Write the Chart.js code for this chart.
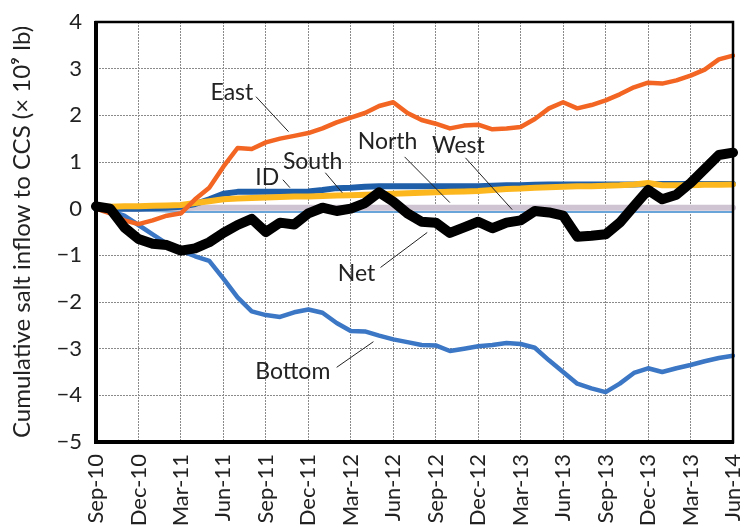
<!DOCTYPE html>
<html>
<head>
<meta charset="utf-8">
<script src="https://cdn.jsdelivr.net/npm/chart.js"></script>
<style>
  html, body { margin: 0; padding: 0; background: #fff; }
  #wrap { width: 740px; height: 531px; }
</style>
</head>
<body>
<div id="wrap"><canvas id="grafica" width="740" height="531"></canvas></div>
<script>
// meses (Sep-10 .. Jun-14)
const meses = [
  'Sep-10','Oct-10','Nov-10','Dec-10','Jan-11','Feb-11','Mar-11','Apr-11','May-11','Jun-11',
  'Jul-11','Aug-11','Sep-11','Oct-11','Nov-11','Dec-11','Jan-12','Feb-12','Mar-12','Apr-12',
  'May-12','Jun-12','Jul-12','Aug-12','Sep-12','Oct-12','Nov-12','Dec-12','Jan-13','Feb-13',
  'Mar-13','Apr-13','May-13','Jun-13','Jul-13','Aug-13','Sep-13','Oct-13','Nov-13','Dec-13',
  'Jan-14','Feb-14','Mar-14','Apr-14','May-14','Jun-14'
];

// etiquetas del eje x (cada 3 meses, tal cual la figura)
const etiquetasX = [
  'Sep-10','Dec-10','Mar-11','Jun-11','Sep-11','Dec-11','Mar-12','Jun-12',
  'Sep-12','Dec-12','Mar-13','Jun-13','Sep-13','Dec-13','Mar-13','Jun-14'
];

const east = [
  0, -0.1, -0.25, -0.33, -0.25, -0.15, -0.1, 0.2, 0.45, 0.9,
  1.3, 1.28, 1.42, 1.5, 1.56, 1.62, 1.72, 1.85, 1.95, 2.05,
  2.2, 2.28, 2.05, 1.9, 1.82, 1.72, 1.78, 1.8, 1.7, 1.72,
  1.75, 1.92, 2.15, 2.28, 2.15, 2.22, 2.32, 2.45, 2.6, 2.7,
  2.68, 2.75, 2.85, 2.98, 3.2, 3.28
];

const bottom = [
  0, -0.05, -0.15, -0.35, -0.55, -0.75, -0.9, -1.02, -1.12, -1.5,
  -1.9, -2.2, -2.28, -2.32, -2.22, -2.16, -2.23, -2.45, -2.62, -2.63,
  -2.72, -2.8, -2.86, -2.92, -2.93, -3.05, -3.0, -2.95, -2.92, -2.88,
  -2.9, -2.98, -3.25, -3.5, -3.75, -3.85, -3.93, -3.75, -3.52, -3.42,
  -3.5, -3.42, -3.35, -3.27, -3.2, -3.15
];

const net = [
  0.05, 0.0, -0.4, -0.65, -0.75, -0.78, -0.9, -0.85, -0.72, -0.52,
  -0.35, -0.22, -0.5, -0.3, -0.34, -0.1, 0.02, -0.05, 0.0, 0.12,
  0.35, 0.15, -0.1, -0.28, -0.3, -0.52, -0.4, -0.28, -0.42, -0.3,
  -0.25, -0.05, -0.08, -0.15, -0.6, -0.58, -0.55, -0.3, 0.05, 0.4,
  0.2, 0.3, 0.55, 0.85, 1.15, 1.2
];

const id = [
  0, 0, 0, 0, 0.01, 0.02, 0.04, 0.1, 0.2, 0.32,
  0.36, 0.36, 0.36, 0.36, 0.36, 0.37, 0.4, 0.44, 0.45, 0.47,
  0.48, 0.48, 0.48, 0.48, 0.48, 0.48, 0.48, 0.48, 0.49, 0.5,
  0.5, 0.51, 0.52, 0.52, 0.52, 0.52, 0.52, 0.52, 0.52, 0.53,
  0.53, 0.53, 0.53, 0.53, 0.53, 0.53
];

const south = [
  0.03, 0.04, 0.05, 0.05, 0.06, 0.07, 0.08, 0.12, 0.16, 0.2,
  0.22, 0.23, 0.24, 0.25, 0.26, 0.26, 0.27, 0.28, 0.29, 0.3,
  0.31, 0.32, 0.33, 0.34, 0.35, 0.36, 0.37, 0.38, 0.4, 0.42,
  0.43, 0.45, 0.46, 0.47, 0.48, 0.48, 0.49, 0.5, 0.52, 0.55,
  0.5, 0.5, 0.5, 0.51, 0.51, 0.52
];

const north = [
  0, 0, 0, 0, 0.01, 0.01, 0.01, 0.02, 0.02, 0.02,
  0.02, 0.02, 0.02, 0.02, 0.02, 0.02, 0.02, 0.02, 0.02, 0.02,
  0.02, 0.02, 0.02, 0.02, 0.02, 0.02, 0.02, 0.02, 0.02, 0.02,
  0.02, 0.02, 0.02, 0.02, 0.02, 0.02, 0.02, 0.02, 0.02, 0.02,
  0.02, 0.02, 0.02, 0.02, 0.02, 0.02
];

const west = [
  0, -0.02, -0.03, -0.04, -0.05, -0.06, -0.07, -0.07, -0.07, -0.07,
  -0.07, -0.07, -0.07, -0.07, -0.07, -0.07, -0.07, -0.07, -0.07, -0.07,
  -0.07, -0.07, -0.07, -0.07, -0.07, -0.07, -0.07, -0.07, -0.07, -0.07,
  -0.07, -0.07, -0.07, -0.07, -0.07, -0.07, -0.07, -0.07, -0.07, -0.07,
  -0.07, -0.07, -0.07, -0.07, -0.07, -0.07
];

// rotulos con linea guia (en coordenadas de datos: indice de mes, valor)
const rotulos = [
  { texto: 'East',   x: 9.6,  y: 2.48,  desde: [11.3, 2.4],  hasta: [13.6, 1.65] },
  { texto: 'South',  x: 15.3, y: 1.0,   desde: [16.2, 0.77], hasta: [17.4, 0.34] },
  { texto: 'ID',     x: 12.1, y: 0.66,  desde: [13.2, 0.62], hasta: [13.7, 0.45] },
  { texto: 'North',  x: 20.6, y: 1.43,  desde: [21.8, 1.11], hasta: [25.0, 0.13] },
  { texto: 'West',   x: 25.6, y: 1.35,  desde: [26.1, 1.09], hasta: [29.4, -0.02] },
  { texto: 'Net',    x: 18.4, y: -1.39, desde: [20.1, -1.26], hasta: [23.4, -0.51] },
  { texto: 'Bottom', x: 13.9, y: -3.49, desde: [17.0, -3.4], hasta: [19.6, -2.85] }
];

const fuente = "Lato, 'Open Sans', sans-serif";

function serie(label, data, color, ancho, orden) {
  return {
    label: label,
    data: data,
    borderColor: color,
    backgroundColor: color,
    borderWidth: ancho,
    pointRadius: 0,
    tension: 0,
    borderJoinStyle: 'round',
    borderCapStyle: 'round',
    order: orden
  };
}

const pluginRotulos = {
  id: 'rotulos',
  afterDatasetsDraw(chart) {
    const ctx = chart.ctx;
    const xs = chart.scales.x;
    const ys = chart.scales.y;
    ctx.save();
    ctx.font = "23px " + fuente;
    ctx.fillStyle = '#222';
    ctx.strokeStyle = '#222';
    ctx.lineWidth = 1;
    ctx.textAlign = 'center';
    ctx.textBaseline = 'middle';
    rotulos.forEach(r => {
      ctx.fillText(r.texto, xs.getPixelForValue(r.x), ys.getPixelForValue(r.y));
      ctx.beginPath();
      ctx.moveTo(xs.getPixelForValue(r.desde[0]), ys.getPixelForValue(r.desde[1]));
      ctx.lineTo(xs.getPixelForValue(r.hasta[0]), ys.getPixelForValue(r.hasta[1]));
      ctx.stroke();
    });
    ctx.restore();
  },
  afterDraw(chart) {
    // marco del area
    const a = chart.chartArea;
    const ctx = chart.ctx;
    ctx.save();
    ctx.strokeStyle = '#000';
    ctx.lineWidth = 2.5;
    ctx.strokeRect(a.left, a.top, a.right - a.left, a.bottom - a.top);
    ctx.lineWidth = 4;
    ctx.beginPath();
    ctx.moveTo(a.left, a.top - 1);
    ctx.lineTo(a.left, a.bottom);
    ctx.lineTo(a.right + 1, a.bottom);
    ctx.stroke();
    ctx.restore();
  }
};

new Chart(document.getElementById('grafica'), {
  type: 'line',
  data: {
    labels: meses,
    datasets: [
      serie('Net', net, '#000000', 10, 0),
      serie('East', east, '#F26522', 4.5, 1),
      serie('South', south, '#FDB71E', 6, 2),
      serie('ID', id, '#1F5EA8', 6, 3),
      serie('Bottom', bottom, '#3B77C4', 4.5, 4),
      serie('North', north, '#CFC4D2', 6, 5),
      serie('West', west, '#6AA5DA', 2, 6)
    ]
  },
  options: {
    responsive: false,
    animation: false,
    layout: { padding: { top: 22, right: 7, left: 0, bottom: 0 } },
    plugins: {
      legend: { display: false },
      tooltip: { enabled: false }
    },
    scales: {
      x: {
        type: 'category',
        offset: false,
        grid: {
          color: '#8a8a8a',
          lineWidth: 1,
          drawTicks: false
        },
        border: { display: false, dash: [2, 1] },
        ticks: {
          autoSkip: false,
          minRotation: 90,
          maxRotation: 90,
          padding: 12,
          color: '#222',
          font: { family: fuente, size: 22 },
          callback: (v, i) => (i % 3 === 0 ? etiquetasX[i / 3] : null)
        },
        afterFit: s => { s.height = 89; s.paddingLeft = 0; s.paddingRight = 0; }
      },
      y: {
        min: -5,
        max: 4,
        grid: {
          color: '#8a8a8a',
          lineWidth: 1,
          drawTicks: false
        },
        border: { display: false, dash: [2, 1] },
        ticks: {
          stepSize: 1,
          padding: 14,
          color: '#222',
          font: { family: fuente, size: 22 },
          callback: v => (v < 0 ? '\u2212' + Math.abs(v) : '' + v)
        },
        title: {
          display: true,
          text: 'Cumulative salt inflow to CCS (\u00d7 10\u2079 lb)',
          color: '#222',
          font: { family: fuente, size: 24 },
          padding: { top: 8, bottom: 0 }
        },
        afterFit: s => { s.width = 96; s.paddingTop = 0; s.paddingBottom = 0; }
      }
    }
  },
  plugins: [pluginRotulos]
});
</script>
</body>
</html>
